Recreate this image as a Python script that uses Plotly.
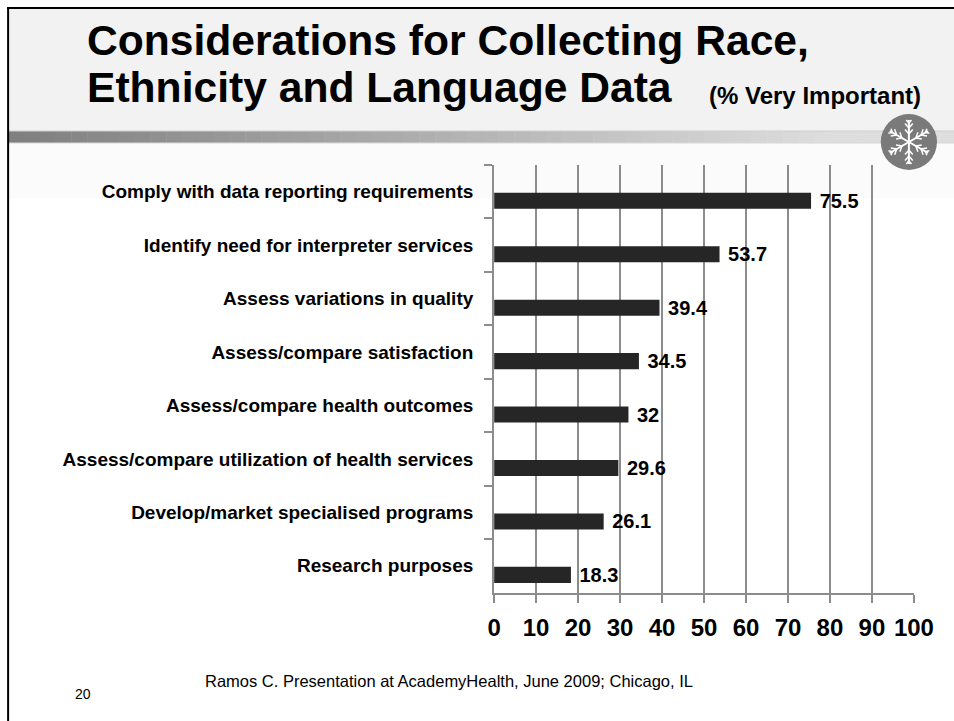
import math
import plotly.graph_objects as go

categories = [
    "Comply with data reporting requirements",
    "Identify need for interpreter services",
    "Assess variations in quality",
    "Assess/compare satisfaction",
    "Assess/compare health outcomes",
    "Assess/compare utilization of health services",
    "Develop/market specialised programs",
    "Research purposes",
]
values = [75.5, 53.7, 39.4, 34.5, 32, 29.6, 26.1, 18.3]
x_ticks = [0, 10, 20, 30, 40, 50, 60, 70, 80, 90, 100]

W, H = 954, 721
# observed rendering: figure drawn ~923 px wide, starting ~8 px from the left edge
X0, WF = 8.0, 923.0
def px(x):
    return (x - X0) / WF
def py(y):
    return 1 - y / H

GRID = "#8c8c8c"
LAB_FONT = "Liberation Sans"

fig = go.Figure()
fig.add_trace(go.Bar(
    y=categories, x=values, orientation="h",
    marker=dict(color="#262626", line=dict(width=0)),
    width=0.3, offset=0.02,
    text=[("\u00a0" + (f"{v:g}")) for v in values],
    textposition="outside", constraintext="none",
    textfont=dict(family=LAB_FONT, size=20, color="#000000", weight="bold"),
    cliponaxis=False,
    showlegend=False,
))

shapes = []
# slide border
shapes.append(dict(type="line", xref="paper", yref="paper", x0=0.0012, x1=0.0012, y0=py(7), y1=py(721),
                   line=dict(color="#000", width=2), layer="above"))
shapes.append(dict(type="line", xref="paper", yref="paper", x0=0, x1=1.05, y0=py(8), y1=py(8),
                   line=dict(color="#000", width=2), layer="above"))
# banner background
shapes.append(dict(type="rect", xref="paper", yref="paper", x0=0.002, x1=1.05, y0=py(9), y1=py(131),
                   fillcolor="#f2f2f2", line=dict(width=0), layer="below"))
shapes.append(dict(type="rect", xref="paper", yref="paper", x0=0.002, x1=1.05, y0=py(143), y1=py(198),
                   fillcolor="#fbfbfb", line=dict(width=0), layer="below"))
# gradient bar
n = 60
x_start, x_end = 9, 954
for i in range(n):
    t = i / (n - 1)
    c = int(128 + (222 - 128) * min(1, t * 1.15))
    xa = x_start + (x_end - x_start) * i / n
    xb = x_start + (x_end - x_start) * (i + 1) / n + 0.5
    shapes.append(dict(type="rect", xref="paper", yref="paper", x0=px(xa), x1=px(xb), y0=py(131), y1=py(143),
                       fillcolor=f"rgb({c},{c},{c})", line=dict(width=0), layer="below"))
shapes.append(dict(type="line", xref="paper", yref="paper", x0=0.002, x1=1.05, y0=py(131), y1=py(131),
                   line=dict(color="#cfcfcf", width=1), layer="below"))
shapes.append(dict(type="line", xref="paper", yref="paper", x0=0.002, x1=1.05, y0=py(143), y1=py(143),
                   line=dict(color="#d8d8d8", width=1), layer="below"))

# logo
cx, cy, r = 906, 142, 28
shapes.append(dict(type="circle", xref="paper", yref="paper", x0=px(cx - r), x1=px(cx + r), y0=py(cy + r), y1=py(cy - r),
                   fillcolor="#7a7a7a", line=dict(width=0), layer="above"))
for k in range(6):
    a = math.radians(90 + 60 * k)
    L = 22
    ex, ey = cx + L * math.cos(a), cy - L * math.sin(a)
    shapes.append(dict(type="line", xref="paper", yref="paper", x0=px(cx), y0=py(cy), x1=px(ex), y1=py(ey),
                       line=dict(color="white", width=2), layer="above"))
    for d in (8, 14, 19):
        bx, by = cx + d * math.cos(a), cy - d * math.sin(a)
        for s in (-1, 1):
            b = a + s * math.radians(40)
            bl = 6 if d < 19 else 4
            shapes.append(dict(type="line", xref="paper", yref="paper", x0=px(bx), y0=py(by),
                               x1=px(bx + bl * math.cos(b)), y1=py(by - bl * math.sin(b)),
                               line=dict(color="white", width=1.5), layer="above"))

annotations = [
    dict(text="<b>Considerations for Collecting Race,</b>", x=px(86), y=py(40), xref="paper", yref="paper",
         xanchor="left", yanchor="middle", showarrow=False,
         font=dict(family="Liberation Sans", size=42.6, color="#000")),
    dict(text="<b>Ethnicity and Language Data</b>", x=px(86), y=py(87), xref="paper", yref="paper",
         xanchor="left", yanchor="middle", showarrow=False,
         font=dict(family="Liberation Sans", size=42.6, color="#000")),
    dict(text="<b>(% Very Important)</b>", x=px(920), y=py(96), xref="paper", yref="paper",
         xanchor="right", yanchor="middle", showarrow=False,
         font=dict(family="Liberation Sans", size=24, color="#000")),
    dict(text="Ramos C. Presentation at AcademyHealth, June 2009; Chicago, IL", x=px(448), y=py(681),
         xref="paper", yref="paper", xanchor="center", yanchor="middle", showarrow=False,
         font=dict(family="Liberation Sans", size=16.5, color="#000")),
    dict(text="20", x=px(84), y=py(694), xref="paper", yref="paper", xanchor="center", yanchor="middle",
         showarrow=False, font=dict(family="Liberation Sans", size=14, color="#000")),
]

fig.update_layout(
    width=W, height=H,
    margin=dict(l=0, r=0, t=0, b=0),
    paper_bgcolor="white", plot_bgcolor="rgba(0,0,0,0)",
    shapes=shapes, annotations=annotations,
    xaxis=dict(
        domain=[px(493), px(911)], range=[0, 100], tickvals=x_ticks,
        showgrid=True, gridcolor=GRID, gridwidth=2, zeroline=False,
        showline=True, linecolor=GRID, linewidth=2,
        ticks="outside", ticklen=8, tickwidth=2, tickcolor=GRID,
        tickfont=dict(family="Liberation Sans", size=24, color="#000", weight="bold"),
        ticklabelstandoff=5, fixedrange=True,
    ),
    yaxis=dict(
        domain=[py(592.5), py(165)], range=[7.5, -0.5], type="category",
        categoryorder="array", categoryarray=categories,
        showgrid=False, zeroline=False,
        showline=True, linecolor=GRID, linewidth=2,
        ticks="outside", tickson="boundaries", ticklen=8, tickwidth=2, tickcolor=GRID,
        tickfont=dict(family=LAB_FONT, size=19, color="#000", weight="bold"),
        ticklabelstandoff=15, fixedrange=True,
    ),
)

fig.write_html("out.html")
